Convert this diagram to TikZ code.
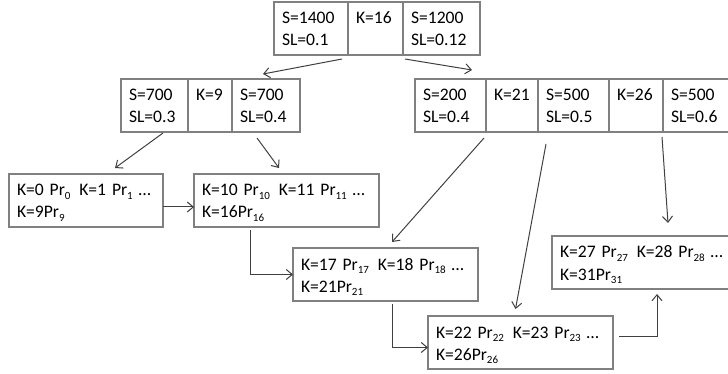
\documentclass[tikz,border=0pt]{standalone}
\usepackage{fontspec}
\setmainfont{Carlito}
\usetikzlibrary{positioning,arrows.meta}

\tikzset{>={Straight Barb[length=6pt,width=10pt]}}
\colorlet{boxgray}{black!50}
\colorlet{linegray}{black!75}
\tikzset{
  keycell/.style={draw=boxgray, line width=1.3pt, outer sep=0pt,
    inner xsep=8pt, inner ysep=0pt, text width=#1-16pt, align=left,
    text height=22pt, text depth=31pt, anchor=north west,
    font=\fontsize{17.6}{22}\selectfont},
  link/.style={->, draw=linegray, line width=1pt}
}
\newcommand{\prob}[1]{Pr\raisebox{-0.22em}{\fontsize{11}{11}\selectfont#1}}

\begin{document}
\begin{tikzpicture}[x=1pt,y=-1pt]
  \clip (0,0) rectangle (728,374);
  % root
  \node[keycell=74pt] (t1) at (274,2) {S=1400\\SL=0.1};
  \node[keycell=55pt, right=0pt of t1] (t2) {K=16};
  \node[keycell=77pt, right=0pt of t2] (t3) {S=1200\\SL=0.12};
  % second level
  \node[keycell=67pt] (a1) at (121,79) {S=700\\SL=0.3};
  \node[keycell=44pt, right=0pt of a1] (a2) {K=9};
  \node[keycell=68pt, right=0pt of a2] (a3) {S=700\\SL=0.4};
  \node[keycell=71pt] (b1) at (415,79) {S=200\\SL=0.4};
  \node[keycell=52pt, right=0pt of b1] (b2) {K=21};
  \node[keycell=71pt, right=0pt of b2] (b3) {S=500\\SL=0.5};
  \node[keycell=54pt, right=0pt of b3] (b4) {K=26};
  \node[keycell=74pt, right=0pt of b4] (b5) {S=500\\SL=0.6};
  % leaves
  \node[keycell=154pt] (l1) at (9,174) {\mbox{K=0 \prob{0}\ \,K=1 \prob{1} …}\\K=9\prob{9}};
  \node[keycell=185pt] (l2) at (194,174) {\mbox{K=10 \prob{10}\ \,K=11 \prob{11} …}\\K=16\prob{16}};
  \node[keycell=185pt] (l3) at (293,248) {\mbox{K=17 \prob{17}\ \,K=18 \prob{18} …}\\K=21\prob{21}};
  \node[keycell=185pt] (l4) at (552,236) {\mbox{K=27 \prob{27}\ \,K=28 \prob{28} …}\\K=31\prob{31}};
  \node[keycell=185pt] (l5) at (428,316) {\mbox{K=22 \prob{22}\ \,K=23 \prob{23} …}\\K=26\prob{26}};

  % tree links
  \draw[link] ([shift={(-6,4)}]t1.south east) -- ([shift={(31,-5)}]a3.north west);
  \draw[link] ([shift={(2,4)}]t3.south west) -- ([shift={(57,-9)}]b1.north west);
  \draw[link] ([shift={(42,1)}]a1.south west) -- ([shift={(106,-6)}]l1.north west);
  \draw[link] ([shift={(25,6)}]a3.south west) -- ([shift={(85,-6)}]l2.north west);
  \draw[link] ([shift={(-2,6)}]b1.south east) -- ([shift={(6.5,-6)}]l3.north);
  \draw[link] ([shift={(8,12)}]b3.south west) -- ([shift={(-5,-7)}]l5.north);
  \draw[link] ([shift={(-1,5)}]b4.south east) -- ([shift={(116,-13)}]l4.north west);
  % leaf chain
  \draw[link] ([shift={(0,6.5)}]l1.east) -- ([shift={(0,6.5)}]l2.west);
  \draw[link] ([shift={(56,3)}]l2.south west) |- (l3.west);
  \draw[link] ([shift={(6.5,3)}]l3.south) |- ([shift={(0,5)}]l5.west);
  \draw[link] ([shift={(6,-6.5)}]l5.east) -| ([shift={(12.5,5)}]l4.south);
\end{tikzpicture}
\end{document}
